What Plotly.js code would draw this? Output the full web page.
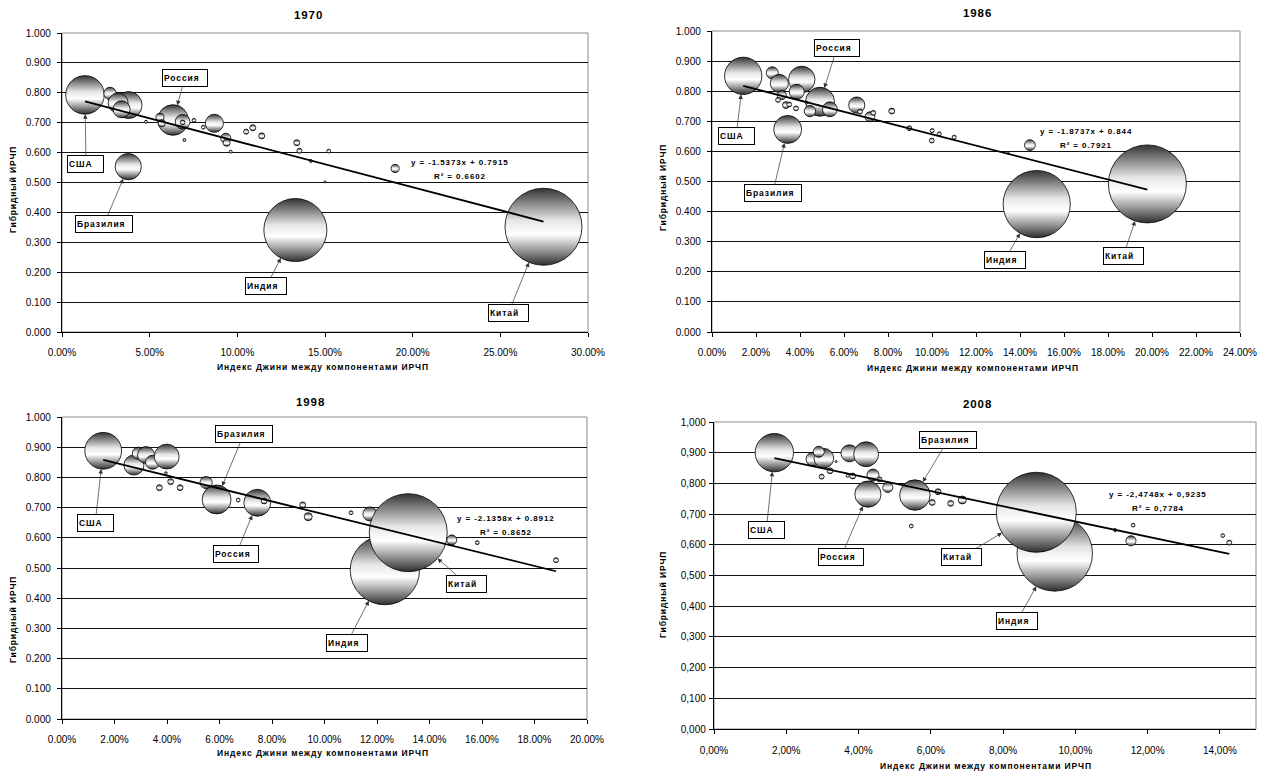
<!DOCTYPE html>
<html><head><meta charset="utf-8">
<script src="https://cdn.plot.ly/plotly-3.0.1.min.js"></script>
<style>
html,body{margin:0;padding:0;background:#fff;}
#chart{width:1267px;height:774px;}
.annotation-text{letter-spacing:0.9px;}
</style></head><body><div id="chart"></div>
<script>
// ---------- DATA ----------
// x: Gini index between HDI components (fraction), y: hybrid HDI, s: population (mln)
const gini1970=[0.1331,0.2746,0.0131,0.0378,0.0633,0.0380,0.0274,0.0320,0.0340,0.0869,0.0688,0.0934,0.0559,0.0569,0.1900,0.1088,0.1139,0.1339,0.1050,0.1354,0.0939,0.0688,0.0753,0.0806,0.1521,0.0479,0.0698,0.0962,0.1419,0.1500];
const hdi1970 =[0.341,0.352,0.793,0.553,0.709,0.759,0.798,0.766,0.745,0.698,0.703,0.648,0.718,0.698,0.547,0.683,0.656,0.633,0.670,0.606,0.633,0.701,0.708,0.685,0.605,0.703,0.642,0.603,0.572,0.502];
const pop1970 =[550,820,205,95,130,100,21,55,40,45,30,14,9,7,9,5,5,5,3.5,3.5,7,3,2,2,2,1.2,1.2,1.2,1.2,0.3];
const labels1970=['Россия','США','Бразилия','Индия','Китай'];
const labelIdx1970=[4,2,3,0,1];

const gini1986=[0.1476,0.1979,0.0142,0.0344,0.0408,0.0491,0.0274,0.0306,0.0385,0.0317,0.0536,0.0445,0.0658,0.0718,0.1445,0.0336,0.0351,0.0382,0.0300,0.0430,0.0673,0.0733,0.0817,0.0897,0.1001,0.0999,0.1033,0.1101,0.1347];
const hdi1986 =[0.425,0.492,0.851,0.673,0.839,0.765,0.861,0.826,0.798,0.787,0.740,0.734,0.754,0.715,0.621,0.754,0.756,0.743,0.771,0.762,0.732,0.728,0.734,0.677,0.669,0.636,0.658,0.647,0.594];
const pop1986 =[780,1050,240,135,121,145,25,56,39,14,38,22,45,17,20,8,4,4,4,1.5,4,4,6,4,3,4,3,3,0.5];
const labels1986=['Россия','США','Бразилия','Индия','Китай'];
const labelIdx1986=[5,2,3,0,1];

const gini1998=[0.0157,0.0274,0.0291,0.0320,0.0345,0.0399,0.0396,0.0414,0.0371,0.0450,0.0549,0.0589,0.0671,0.0744,0.0770,0.0917,0.0938,0.1101,0.1230,0.1173,0.1319,0.1485,0.1582,0.1882];
const hdi1998 =[0.888,0.841,0.880,0.874,0.850,0.869,0.814,0.786,0.766,0.766,0.783,0.727,0.725,0.716,0.722,0.709,0.670,0.683,0.493,0.679,0.617,0.593,0.584,0.526];
const pop1998 =[275,82,30,58,40,126,1.5,7,7,7,30,170,3,147,7,7,13,3,980,40,1240,20,3,5];
const labels1998=['Бразилия','США','Россия','Китай','Индия'];
const labelIdx1998=[11,0,13,20,18];

const gini2008=[0.0167,0.0274,0.0304,0.0290,0.0375,0.0421,0.0338,0.0321,0.0298,0.0370,0.0384,0.0440,0.0458,0.0481,0.0426,0.0519,0.0556,0.0620,0.0604,0.0655,0.0687,0.0546,0.0943,0.0892,0.1154,0.1110,0.1160,0.1408,0.1426];
const hdi2008 =[0.900,0.879,0.882,0.903,0.898,0.895,0.871,0.841,0.822,0.825,0.824,0.827,0.813,0.787,0.765,0.773,0.762,0.773,0.738,0.735,0.746,0.661,0.572,0.706,0.613,0.648,0.664,0.630,0.607];
const pop2008 =[304,40,80,25,60,128,0.5,7,5,2,7,30,5,21,142,0.5,192,7,7,7,13,3,1180,1325,21,2,3,3,5];
const labels2008=['Бразилия','США','Россия','Китай','Индия'];
const labelIdx2008=[16,0,14,23,22];

const years=['1970','1986','1998','2008'];
const slopes=[-1.5373,-1.8737,-2.1358,-2.4748];
const intercepts=[0.7915,0.844,0.8912,0.9235];
const r2s=[0.6602,0.7921,0.8652,0.7784];
const xTitle='Индекс Джини между компонентами ИРЧП';
const yTitle='Гибридный ИРЧП';

// ---------- LAYOUT / STYLE ----------
const W=1267,H=774;
const FONT='"Liberation Sans", Arial, Helvetica, sans-serif';
const px=(x)=>x/W, py=(y)=>1-y/H;
const boxW={'Россия':46,'США':37,'Бразилия':58,'Индия':42,'Китай':41};

const panels=[
 {x:gini1970,y:hdi1970,s:pop1970,lab:labels1970,li:labelIdx1970,comma:false,xmax:0.30,dtick:0.05,
  dx:[62,588],dy:[33,332],maxD:77,title:[308,15],xt:[323,367],yt:[13,190],eq:[460,163],
  xstand:7,ystand:4,
  off:{'Россия':[12,-42],'США':[1,69],'Бразилия':[-24,57],'Индия':[-29,56],'Китай':[-35,86]}},
 {x:gini1986,y:hdi1986,s:pop1986,lab:labels1986,li:labelIdx1986,comma:false,xmax:0.24,dtick:0.02,
  dx:[712,1240],dy:[31,332],maxD:78,title:[977,13],xt:[973,368],yt:[663,188],eq:[1086,131],
  xstand:7,ystand:4,
  off:{'Россия':[17,-54],'США':[-7,60],'Бразилия':[-15,64],'Индия':[-32,56],'Китай':[-24,72]}},
 {x:gini1998,y:hdi1998,s:pop1998,lab:labels1998,li:labelIdx1998,comma:false,xmax:0.20,dtick:0.02,
  dx:[62,587],dy:[417,719],maxD:78,title:[310,402],xt:[323,753],yt:[13,620],eq:[506,518],
  xstand:7,ystand:4,
  off:{'Бразилия':[27,-65],'США':[-8,72],'Россия':[-21,51],'Китай':[58,51],'Индия':[-38,73]}},
 {x:gini2008,y:hdi2008,s:pop2008,lab:labels2008,li:labelIdx2008,comma:true,xmax:0.15,dtick:0.02,
  dx:[714,1256],dy:[422,729],maxD:80,title:[977,404],xt:[986,766],yt:[663,595],eq:[1158,494],
  xstand:8,ystand:1,
  off:{'Бразилия':[33,-55],'США':[-8,77],'Россия':[-27,63],'Китай':[-75,45],'Индия':[-38,68]}}
];

const traces=[], annotations=[], shapes=[];
const layout={width:W,height:H,margin:{l:0,r:0,t:0,b:0},paper_bgcolor:'#fff',plot_bgcolor:'#fff',
  showlegend:false,font:{family:FONT,color:'#000',size:10}};

const fmt=(v,comma)=>comma?String(v).replace('.',','):String(v);

panels.forEach((p,i)=>{
  const n=i?String(i+1):'';
  const xa='x'+n, ya='y'+n;
  const sizeref=2*Math.max(...p.s)/(p.maxD*p.maxD);
  traces.push({type:'scatter',mode:'markers',x:p.x,y:p.y,xaxis:xa,yaxis:ya,hoverinfo:'skip',
    marker:{size:p.s,sizemode:'area',sizeref:sizeref,sizemin:1,color:'#ffffff',opacity:1,
      gradient:{type:'vertical',color:'#333333'},line:{color:'#000',width:0.8}}});
  const x0=Math.min(...p.x), x1=Math.max(...p.x);
  traces.push({type:'scatter',mode:'lines',x:[x0,x1],y:[slopes[i]*x0+intercepts[i],slopes[i]*x1+intercepts[i]],
    xaxis:xa,yaxis:ya,hoverinfo:'skip',line:{color:'#000',width:1.8}});

  const xtv=[],xtt=[],ytv=[],ytt=[];
  for(let v=0; v<=p.xmax+1e-9; v+=p.dtick){xtv.push(+v.toFixed(4)); xtt.push(fmt((v*100).toFixed(2),p.comma)+'%');}
  for(let k=0;k<=10;k++){ytv.push(k/10); ytt.push(fmt((k/10).toFixed(3),p.comma));}

  layout['xaxis'+n]={domain:[px(p.dx[0]),px(p.dx[1])],anchor:ya,range:[0,p.xmax],
    tickvals:xtv,ticktext:xtt,showgrid:false,zeroline:false,showline:true,linecolor:'#000',linewidth:1.2,
    ticks:'outside',ticklen:4,tickcolor:'#000',tickwidth:1,ticklabelstandoff:p.xstand,
    tickfont:{family:FONT,size:10,color:'#000'},fixedrange:true};
  layout['yaxis'+n]={domain:[py(p.dy[1]),py(p.dy[0])],anchor:xa,range:[0,1],
    tickvals:ytv,ticktext:ytt,showgrid:true,gridcolor:'#111',gridwidth:1,zeroline:false,showline:true,linecolor:'#000',linewidth:1.2,
    ticks:'outside',ticklen:4,tickcolor:'#000',tickwidth:1,ticklabelstandoff:p.ystand,
    tickfont:{family:FONT,size:10,color:'#000'},fixedrange:true};

  shapes.push({type:'rect',xref:xa+' domain',yref:ya+' domain',x0:0,x1:1,y0:0,y1:1,
    line:{color:'#8c8c8c',width:1},fillcolor:'rgba(0,0,0,0)',layer:'below'});

  // titles
  annotations.push({xref:'paper',yref:'paper',x:px(p.title[0]),y:py(p.title[1]),text:'<b>'+years[i]+'</b>',
    showarrow:false,xanchor:'center',yanchor:'middle',font:{family:FONT,size:11.5,color:'#000'}});
  annotations.push({xref:'paper',yref:'paper',x:px(p.xt[0]),y:py(p.xt[1]),text:'<b>'+xTitle+'</b>',
    showarrow:false,xanchor:'center',yanchor:'middle',font:{family:FONT,size:8.5,color:'#000'}});
  annotations.push({xref:'paper',yref:'paper',x:px(p.yt[0]),y:py(p.yt[1]),text:'<b>'+yTitle+'</b>',textangle:-90,
    showarrow:false,xanchor:'center',yanchor:'middle',font:{family:FONT,size:8.5,color:'#000'}});
  // equation
  const sgn=intercepts[i]>=0?' + ':' - ';
  annotations.push({xref:'paper',yref:'paper',x:px(p.eq[0]),y:py(p.eq[1]),
    text:'<b>y = '+fmt(slopes[i],p.comma)+'x'+sgn+fmt(Math.abs(intercepts[i]),p.comma)+'</b>',
    showarrow:false,xanchor:'center',yanchor:'middle',font:{family:FONT,size:8,color:'#000'}});
  annotations.push({xref:'paper',yref:'paper',x:px(p.eq[0]),y:py(p.eq[1]+14),
    text:'<b>R\u00B2 = '+fmt(r2s[i],p.comma)+'</b>',
    showarrow:false,xanchor:'center',yanchor:'middle',font:{family:FONT,size:8,color:'#000'}});
  // country labels
  p.lab.forEach((name,k)=>{
    const idx=p.li[k];
    const r=Math.sqrt(p.s[idx]/(2*sizeref));
    const o=p.off[name];
    annotations.push({xref:xa,yref:ya,x:p.x[idx],y:p.y[idx],text:'<b>'+name+'</b>',
      showarrow:true,ax:o[0],ay:o[1],standoff:r,arrowhead:2,arrowsize:1.3,arrowwidth:0.7,arrowcolor:'#333',
      bgcolor:'#fff',bordercolor:'#000',borderwidth:1,borderpad:1,width:boxW[name]-4,height:14,align:'left',valign:'middle',
      font:{family:FONT,size:8.5,color:'#000'}});
  });
});
layout.annotations=annotations;
layout.shapes=shapes;

Plotly.newPlot('chart',traces,layout,{staticPlot:true,displayModeBar:false}).then(gd=>{
  const NS='http://www.w3.org/2000/svg';
  const stops=[[0,'#333333'],[0.15,'#747474'],[0.42,'#e6e6e6'],[0.6,'#ffffff'],[0.8,'#9a9a9a'],[1,'#2e2e2e']];
  gd.querySelectorAll('linearGradient').forEach(g=>{
    while(g.firstChild) g.removeChild(g.firstChild);
    g.setAttribute('gradientUnits','objectBoundingBox');
    g.setAttribute('x1','0');g.setAttribute('y1','0');g.setAttribute('x2','0');g.setAttribute('y2','1');
    g.removeAttribute('gradientTransform');
    stops.forEach(([o,c])=>{const s=document.createElementNS(NS,'stop');s.setAttribute('offset',o);s.setAttribute('stop-color',c);g.appendChild(s);});
  });
});
</script></body></html>
